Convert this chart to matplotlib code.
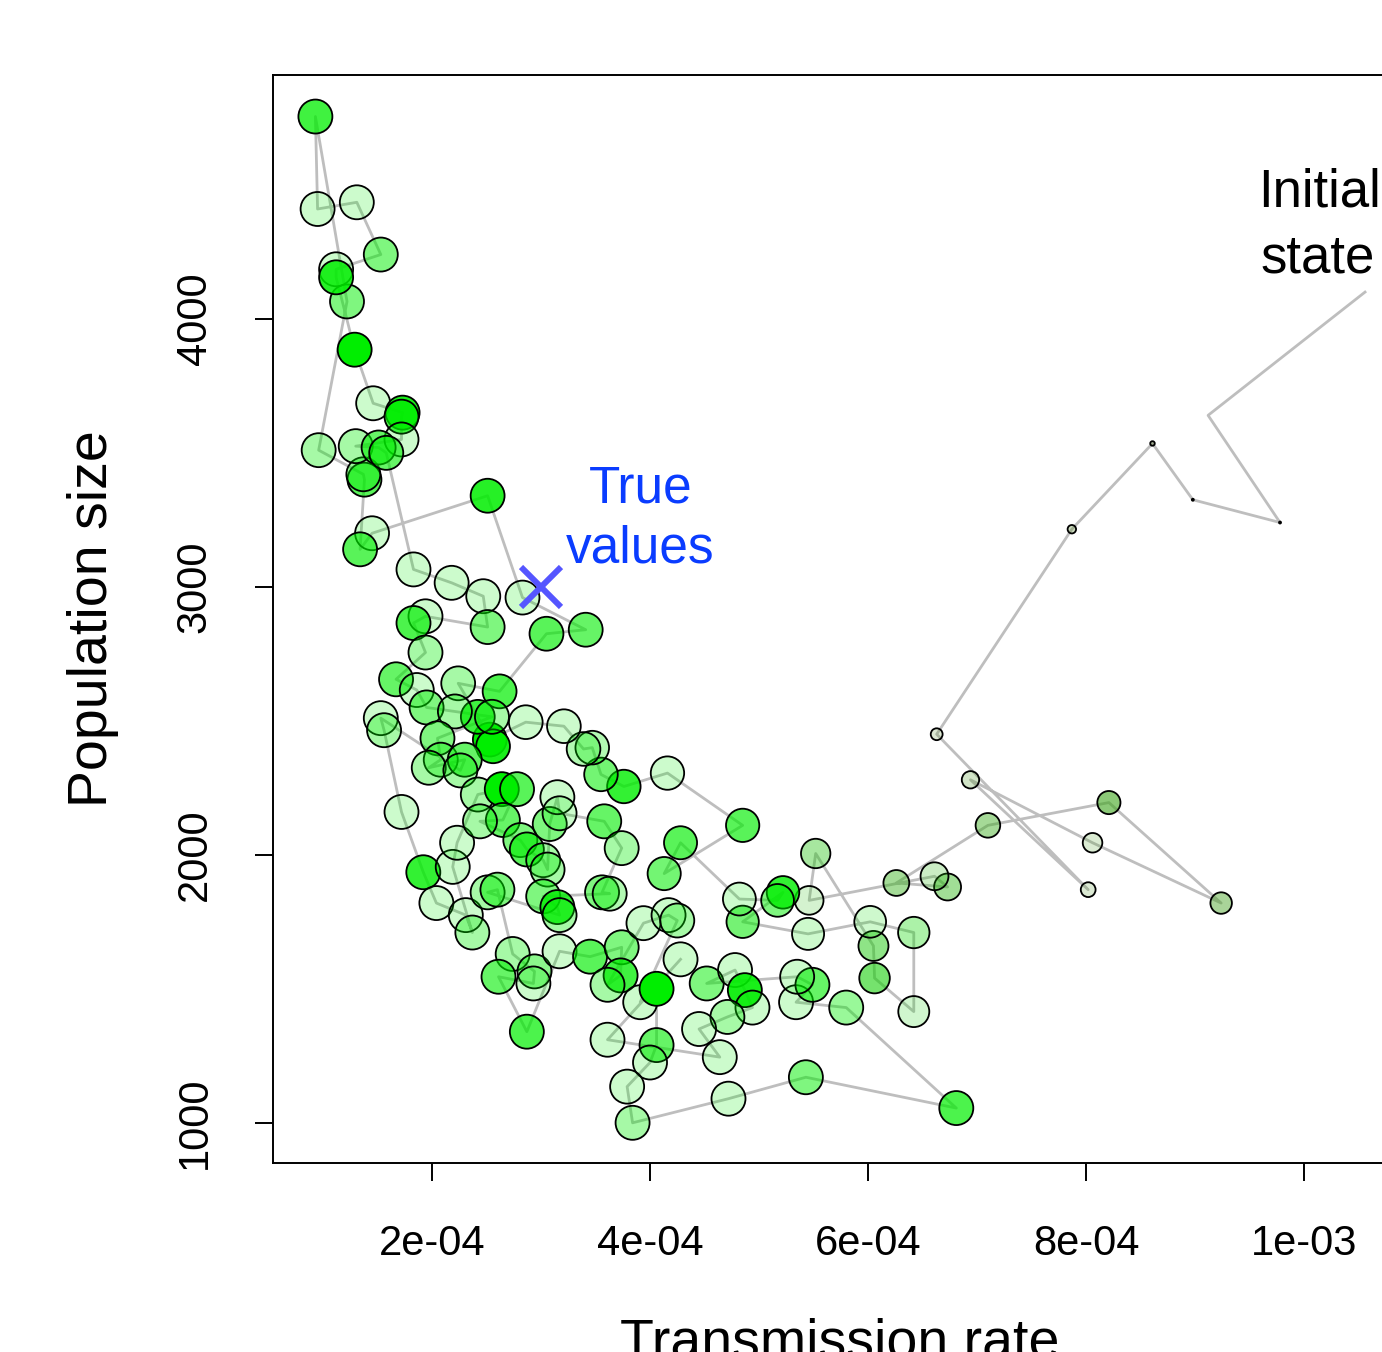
# plot.py
# MCMC trace of (transmission rate, population size), starting from the initial state

import numpy as np
import matplotlib

matplotlib.use("Agg")
import matplotlib.pyplot as plt

plt.rcParams["font.family"] = ["Liberation Sans", "DejaVu Sans"]

# ----------------------------------------------- Data -----------------------------------------------

# transmission rate of each chain state, in units of 1e-04 (chain order)
beta_e4 = [
    10.56, 9.12, 9.78, 8.98, 8.61, 7.87, 6.63, 8.02, 6.94, 8.06,
    9.24, 8.21, 7.10, 6.26, 6.73, 6.61, 5.46, 5.52, 6.05, 6.06,
    6.42, 6.42, 6.02, 5.45, 4.85, 5.22, 5.17, 4.82, 4.28, 4.13,
    4.85, 4.16, 3.76, 3.55, 3.47, 3.39, 3.21, 2.86, 2.53, 2.56,
    2.42, 2.24, 2.62, 3.05, 3.41, 2.83, 2.51, 1.45, 1.34, 1.38,
    1.37, 0.96, 1.22, 0.93, 0.95, 1.31, 1.53, 1.12, 1.12, 1.29,
    1.46, 1.73, 1.72, 1.72, 1.30, 1.51, 1.58, 1.83, 2.18, 2.47,
    2.51, 1.94, 1.83, 1.94, 1.67, 1.86, 1.95, 2.21, 2.55, 2.05,
    2.08, 1.97, 2.30, 2.26, 1.53, 1.56, 1.72, 1.92, 2.04, 2.31,
    2.37, 2.19, 2.23, 2.42, 2.64, 2.78, 2.65, 2.44, 2.81, 2.87,
    3.02, 3.06, 3.08, 3.15, 3.17, 3.58, 3.74, 3.56, 3.63, 3.02,
    3.15, 3.17, 2.51, 2.60, 2.74, 2.94, 2.93, 2.61, 2.87, 3.17,
    3.45, 3.74, 3.73, 3.61, 3.94, 4.17, 4.25, 3.91, 4.06, 4.06,
    4.00, 3.79, 3.84, 4.72, 5.43, 6.81, 5.80, 5.34, 5.49, 5.35,
    4.52, 4.78, 4.87, 4.94, 4.71, 4.45, 4.64, 3.61, 4.28,
]

# population size of each chain state
pop_size = [
    4100, 3640, 3240, 3325, 3535, 3215, 2450, 1870, 2280, 2045,
    1820, 2195, 2110, 1895, 1880, 1920, 1830, 2005, 1660, 1540,
    1415, 1710, 1750, 1705, 1750, 1860, 1830, 1835, 2045, 1930,
    2110, 2305, 2255, 2300, 2400, 2395, 2480, 2495, 2430, 2405,
    2515, 2640, 2610, 2825, 2840, 2960, 3340, 3200, 3140, 3400,
    3420, 3510, 4065, 4755, 4410, 4435, 4240, 4185, 4155, 3885,
    3685, 3650, 3635, 3550, 3525, 3520, 3500, 3065, 3015, 2965,
    2850, 2890, 2865, 2755, 2655, 2615, 2550, 2535, 2515, 2435,
    2355, 2325, 2355, 2315, 2510, 2465, 2160, 1935, 1820, 1775,
    1710, 1955, 2045, 2225, 2245, 2245, 2130, 2125, 2055, 2020,
    1980, 1945, 2115, 2215, 2155, 2125, 2025, 1860, 1855, 1845,
    1805, 1775, 1860, 1870, 1630, 1565, 1520, 1545, 1340, 1640,
    1620, 1655, 1550, 1515, 1745, 1775, 1755, 1450, 1500, 1290,
    1225, 1135, 1000, 1090, 1170, 1055, 1430, 1450, 1515, 1545,
    1520, 1570, 1495, 1430, 1395, 1350, 1245, 1310, 1610,
]

# relative posterior weight of each state (drives fill opacity)
weight = [
    0.30, 0.30, 0.30, 0.30, 0.30, 0.30, 0.20, 0.20, 0.25, 0.20,
    0.45, 0.60, 0.45, 0.45, 0.45, 0.25, 0.20, 0.40, 0.50, 0.60,
    0.20, 0.35, 0.20, 0.20, 0.55, 0.80, 0.50, 0.20, 0.65, 0.55,
    0.65, 0.20, 0.80, 0.55, 0.30, 0.30, 0.20, 0.20, 1.00, 0.90,
    0.75, 0.35, 0.70, 0.65, 0.60, 0.20, 0.85, 0.20, 0.65, 0.65,
    0.40, 0.35, 0.50, 0.75, 0.20, 0.20, 0.50, 0.20, 0.85, 1.00,
    0.20, 0.90, 0.70, 0.20, 0.35, 0.60, 0.60, 0.20, 0.20, 0.20,
    0.50, 0.20, 0.70, 0.35, 0.60, 0.20, 0.50, 0.35, 0.35, 0.50,
    0.35, 0.35, 0.60, 0.35, 0.20, 0.35, 0.20, 0.80, 0.20, 0.20,
    0.35, 0.20, 0.20, 0.35, 1.00, 0.65, 0.60, 0.35, 0.50, 0.65,
    0.35, 0.35, 0.50, 0.20, 0.20, 0.60, 0.35, 0.50, 0.30, 0.50,
    0.80, 0.35, 0.35, 0.50, 0.35, 0.45, 0.20, 0.60, 0.70, 0.20,
    0.65, 0.50, 0.75, 0.35, 0.20, 0.20, 0.35, 0.20, 1.00, 0.60,
    0.20, 0.20, 0.35, 0.20, 0.50, 0.70, 0.40, 0.20, 0.60, 0.20,
    0.50, 0.20, 0.90, 0.20, 0.35, 0.20, 0.20, 0.20, 0.20,
]

true_beta = 3e-04
true_pop = 3000

x_ticks = [2e-04, 4e-04, 6e-04, 8e-04, 1e-03]
x_tick_labels = ["2e-04", "4e-04", "6e-04", "8e-04", "1e-03"]
y_ticks = [1000, 2000, 3000, 4000]
y_tick_labels = ["1000", "2000", "3000", "4000"]

# ----------------------------------------------- Plot -----------------------------------------------

beta = np.array(beta_e4) * 1e-04
pop = np.array(pop_size, dtype=float)
w = np.array(weight)
it = np.arange(len(beta))

# marker radius grows with iteration (px), first states have no marker
radius_px = np.clip(17 * (1 - np.exp(-(it - 3) / 7.0)), 1.0, None)
radius_px[:2] = 0
sizes = (2 * radius_px * 0.72) ** 2

# fill colour goes from olive (burn-in) to green, opacity from weight
olive = np.array([110, 110, 50]) / 255
green = np.array([0, 238, 0]) / 255
t = np.clip(it / 25.0, 0, 1)[:, None]
rgb = olive * (1 - t) + green * t
face = np.column_stack([rgb, w])

fig = plt.figure(figsize=(13.82, 13.52), dpi=100)
ax = fig.add_axes([273 / 1382, 1 - 1163 / 1352, (1407 - 273) / 1382, (1163 - 75) / 1352])

ax.plot(beta, pop, color="#bebebe", lw=2.0, zorder=1)
ax.scatter(beta, pop, s=sizes, c=face, edgecolors="black", linewidths=1.3, zorder=2)

ax.plot(true_beta, true_pop, marker="x", ms=29, mew=4.3, color="#5555ff", zorder=3)

ax.text(3.91e-04, 3313, "True", color="#0a3cff", fontsize=37, ha="center", va="baseline")
ax.text(3.91e-04, 3090, "values", color="#0a3cff", fontsize=37, ha="center", va="baseline")
ax.text(10.14e-04, 4418, "Initial", color="black", fontsize=38, ha="center", va="baseline")
ax.text(10.13e-04, 4172, "state", color="black", fontsize=38, ha="center", va="baseline")

ax.set_xlim(0.541e-04, 10.945e-04)
ax.set_ylim(850, 4910)

ax.set_xticks(x_ticks)
ax.set_xticklabels(x_tick_labels)
ax.set_yticks(y_ticks)
ax.set_yticklabels(y_tick_labels, rotation=90, va="center")
ax.tick_params(length=13, width=1.4, labelsize=30)
ax.tick_params(axis="x", pad=31)
ax.tick_params(axis="y", pad=29)

for side in ["left", "top", "bottom", "right"]:
    ax.spines[side].set_linewidth(1.4)

fig.text(840 / 1382, 1 - 1357 / 1352, "Transmission rate", fontsize=40,
         ha="center", va="baseline")
fig.text(93 / 1382, 1 - 619 / 1352, "Population size", fontsize=40,
         ha="center", va="center", rotation=90)

fig.savefig("out.png", dpi=100)
